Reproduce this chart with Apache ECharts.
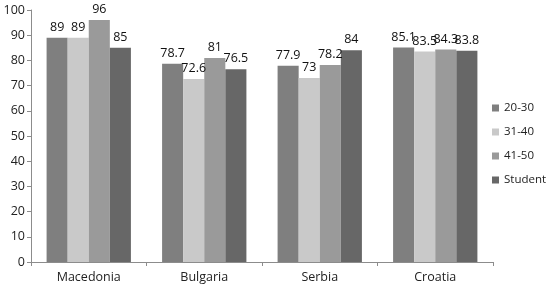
<!DOCTYPE html>
<html><head><meta charset="utf-8">
<script src="https://cdn.jsdelivr.net/npm/echarts@6/dist/echarts.min.js"></script>
<style>html,body{margin:0;padding:0;background:#fff}#c{width:548px;height:285px}</style>
</head><body><div id="c"></div>
<script>
const categories = ['Macedonia', 'Bulgaria', 'Serbia', 'Croatia'];
const seriesNames = ['20-30', '31-40', '41-50', 'Student'];
const s2030 = [89, 78.7, 77.9, 85.1];
const s3140 = [89, 72.6, 73, 83.5];
const s4150 = [96, 81, 78.2, 84.3];
const sStudent = [85, 76.5, 84, 83.8];
const yTicks = [0, 10, 20, 30, 40, 50, 60, 70, 80, 90, 100];

const colors = ['#7f7f7f', '#c9c9c9', '#9a9a9a', '#676767'];
const dataSets = [s2030, s3140, s4150, sStudent];
const font = 'Open Sans';
const chart = echarts.init(document.getElementById('c'));
chart.setOption({
  animation: false,
  textStyle: { fontFamily: font },
  grid: { left: 31, right: 55, top: 10, bottom: 23 },
  legend: {
    orient: 'vertical', left: 487, top: 97, itemWidth: 7, itemHeight: 7, itemGap: 12,
    icon: 'rect',
    textStyle: { fontFamily: font, fontSize: 11.5, color: '#222' },
    data: seriesNames
  },
  xAxis: {
    type: 'category', data: categories,
    axisLine: { lineStyle: { color: '#8c8c8c' } },
    axisTick: { show: true, length: 4, lineStyle: { color: '#8c8c8c' } },
    axisLabel: { fontFamily: font, fontSize: 12.5, color: '#222', margin: 9 }
  },
  yAxis: {
    type: 'value', min: yTicks[0], max: yTicks[yTicks.length - 1], interval: 10,
    axisLine: { show: true, lineStyle: { color: '#8c8c8c' } },
    axisTick: { show: true, length: 4, lineStyle: { color: '#8c8c8c' } },
    splitLine: { show: false },
    axisLabel: { fontFamily: font, fontSize: 12.5, color: '#222', margin: 6 }
  },
  series: seriesNames.map((n, i) => ({
    name: n, type: 'bar', data: dataSets[i],
    barGap: '0%', barCategoryGap: '27%',
    itemStyle: { color: colors[i] },
    label: { show: true, position: 'top', distance: 4, fontFamily: font, fontSize: 12.5, color: '#111' }
  }))
});
</script></body></html>
